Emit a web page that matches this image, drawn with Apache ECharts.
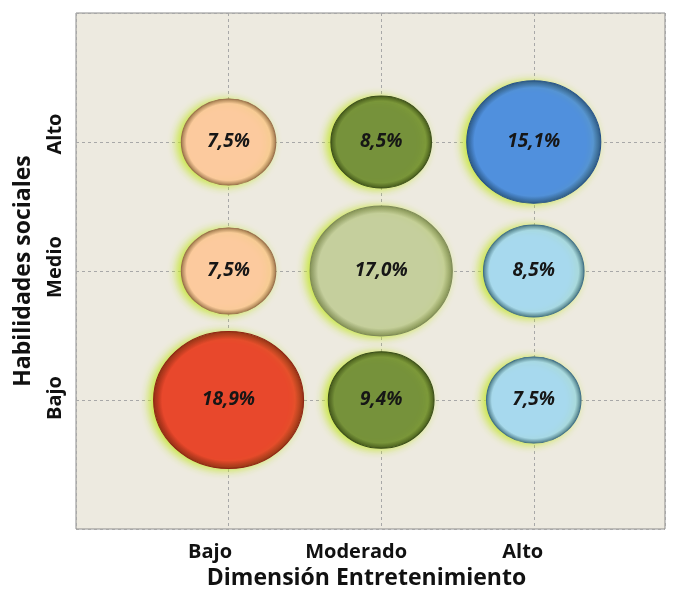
<!DOCTYPE html>
<html><head><meta charset="utf-8">
<script src="https://cdn.jsdelivr.net/npm/echarts@6/dist/echarts.min.js"></script>
<style>html,body{margin:0;padding:0;background:#fff}#c{width:676px;height:590px}</style>
</head><body><div id="c"></div>
<script>
const xCategories = ['Bajo', 'Moderado', 'Alto'];
const yCategories = ['Bajo', 'Medio', 'Alto'];
// percentages per x-category, ordered by y-category (Bajo, Medio, Alto)
const pctBajo = [18.9, 7.5, 7.5];
const pctModerado = [9.4, 17.0, 8.5];
const pctAlto = [7.5, 8.5, 15.1];
const columns = [pctBajo, pctModerado, pctAlto];

const cellColors = [
  ['#E8482C', '#FCCA9E', '#FCCA9E'],
  ['#76923B', '#C5CF9D', '#76923B'],
  ['#A7D9EE', '#A7D9EE', '#5090DD']
];
const edgeColors = [
  ['#8E2414', '#9A6E4C', '#9A6E4C'],
  ['#3B4E1A', '#7E8A58', '#3B4E1A'],
  ['#40708A', '#40708A', '#23508A']
];

const data = [];
columns.forEach((col, xi) => {
  col.forEach((v, yi) => {
    const c = cellColors[xi][yi], e = edgeColors[xi][yi];
    data.push({
      value: [xi + 1, yi + 1, v],
      itemStyle: {
        opacity: 1,
        color: {type: 'radial', x: 0.5, y: 0.5, r: 0.5,
          colorStops: [{offset: 0, color: c}, {offset: 0.88, color: c}, {offset: 1, color: e}]},
        borderColor: e, borderWidth: 1,
        shadowColor: 'rgba(195,230,40,0.9)', shadowBlur: 8, shadowOffsetX: -4, shadowOffsetY: 1
      }
    });
  });
});

const labelFont = {fontFamily: 'Open Sans', fontWeight: 'bold', fontSize: 20, color: '#111'};
const chart = echarts.init(document.getElementById('c'));
chart.setOption({
  animation: false,
  backgroundColor: '#ffffff',
  grid: {left: 76, top: 13, width: 589, height: 516, show: true, outerBoundsMode: 'none', containLabel: false,
    backgroundColor: '#EDEAE0', borderColor: '#8C8C8C', borderWidth: 1},
  xAxis: {
    type: 'value', min: 0, max: 3.86, interval: 1,
    name: 'Dimensión Entretenimiento', nameLocation: 'middle', nameGap: 35,
    nameTextStyle: {fontFamily: 'Open Sans', fontWeight: 'bold', fontSize: 23, color: '#111', padding: [0, 8, 0, 0]},
    axisLine: {show: false}, axisTick: {show: false},
    splitLine: {show: true, lineStyle: {color: '#A8A8A8', type: [3, 3], width: 1}},
    axisLabel: {
      margin: 13, showMaxLabel: false,
      formatter: v => (Number.isInteger(v) && v >= 1 && v <= 3) ? '{l' + v + '|' + xCategories[v - 1] + '}' : '',
      rich: {
        l1: Object.assign({padding: [0, 37, 0, 0]}, labelFont),
        l2: Object.assign({padding: [0, 50, 0, 0]}, labelFont),
        l3: Object.assign({padding: [0, 22, 0, 0]}, labelFont)
      }
    }
  },
  yAxis: {
    type: 'value', min: 0, max: 4, interval: 1,
    name: 'Habilidades sociales', nameLocation: 'middle', nameGap: 41, nameRotate: 90,
    nameTextStyle: {fontFamily: 'Open Sans', fontWeight: 'bold', fontSize: 23, color: '#111'},
    axisLine: {show: false}, axisTick: {show: false},
    splitLine: {show: true, lineStyle: {color: '#A8A8A8', type: [3, 3], width: 1}},
    axisLabel: {
      rotate: 90, margin: 11, showMaxLabel: false, showMinLabel: false,
      formatter: v => (v >= 1 && v <= 3) ? '{l' + v + '|' + yCategories[v - 1] + '}' : '',
      rich: {
        l1: Object.assign({padding: [0, 0, 0, 4]}, labelFont),
        l2: Object.assign({padding: [0, 0, 0, 8]}, labelFont),
        l3: Object.assign({padding: [0, 0, 0, 16]}, labelFont)
      }
    }
  },
  series: [{
    type: 'scatter',
    data: data,
    symbol: 'circle',
    symbolSize: d => [34.5 * Math.sqrt(d[2]), 31.5 * Math.sqrt(d[2])],
    label: {
      show: true, position: 'inside',
      formatter: p => p.value[2].toFixed(1).replace('.', ',') + '%',
      fontFamily: 'Open Sans', fontWeight: 'bold', fontStyle: 'italic', fontSize: 19, color: '#161616'
    }
  }]
});
</script></body></html>
